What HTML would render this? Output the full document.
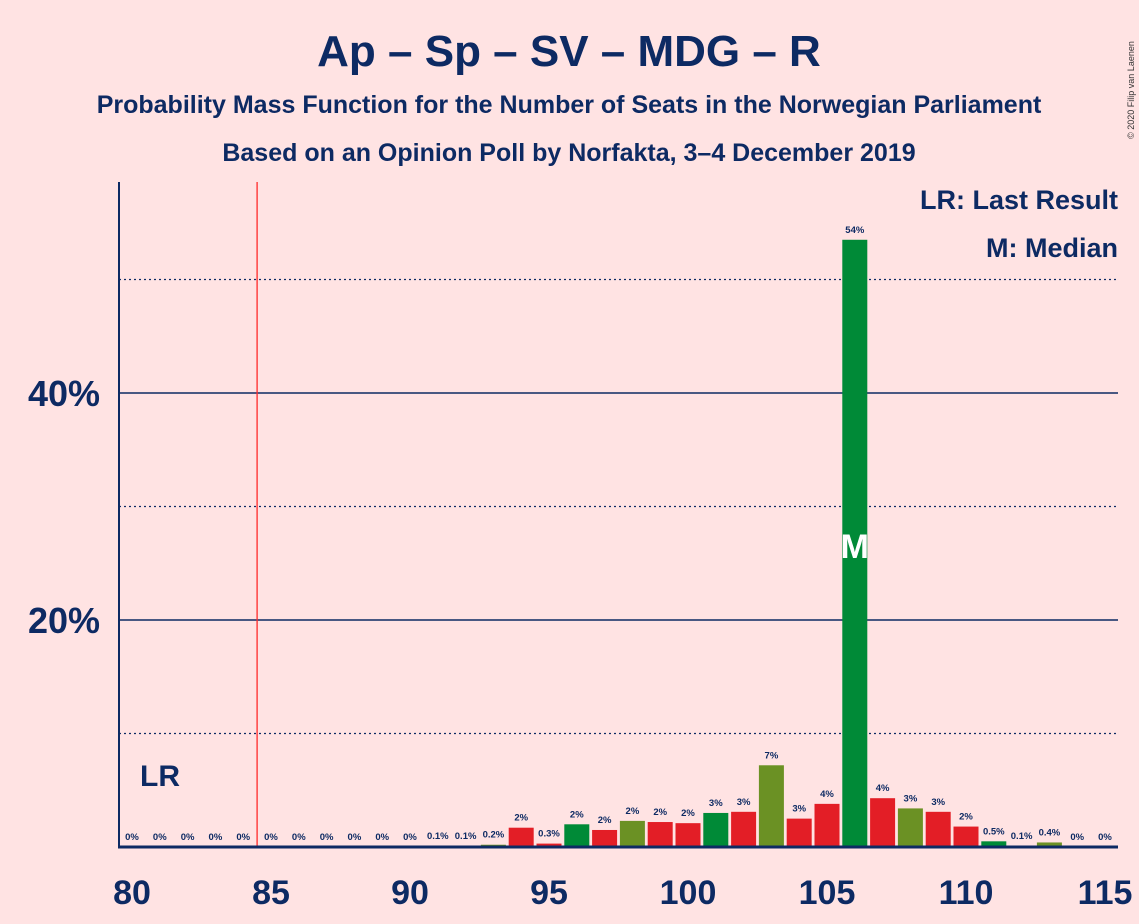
<!DOCTYPE html>
<html><head><meta charset="utf-8"><style>
body{margin:0;background:#ffe3e3;font-family:"Liberation Sans",sans-serif;}
svg{display:block}
</style></head><body>
<svg width="1139" height="924">
<rect width="1139" height="924" fill="#ffe3e3"/>
<text x="569" y="66" text-anchor="middle" font-size="44" font-weight="bold" fill="#0d2a63">Ap – Sp – SV – MDG – R</text>
<text x="569" y="113" text-anchor="middle" font-size="25" font-weight="bold" fill="#0d2a63">Probability Mass Function for the Number of Seats in the Norwegian Parliament</text>
<text x="569" y="161" text-anchor="middle" font-size="25" font-weight="bold" fill="#0d2a63">Based on an Opinion Poll by Norfakta, 3–4 December 2019</text>
<text x="1134" y="90" font-size="9" fill="#333" transform="rotate(-90 1134 90)" text-anchor="middle">© 2020 Filip van Laenen</text>
<text x="1118" y="209" text-anchor="end" font-size="27" font-weight="bold" fill="#0d2a63">LR: Last Result</text>
<text x="1118" y="257" text-anchor="end" font-size="27" font-weight="bold" fill="#0d2a63">M: Median</text>
<g id="grid"></g>
<g id="bars"></g>
<g id="axes"></g>
</svg>
<script>
const seats=[80,81,82,83,84,85,86,87,88,89,90,91,92,93,94,95,96,97,98,99,100,101,102,103,104,105,106,107,108,109,110,111,112,113,114,115];
const probs=[0,0,0,0,0,0,0,0,0,0,0,0.1,0.1,0.2,1.7,0.3,2.0,1.5,2.3,2.2,2.1,3.0,3.1,7.2,2.5,3.8,53.5,4.3,3.4,3.1,1.8,0.5,0.1,0.4,0,0];
const labels=["0%","0%","0%","0%","0%","0%","0%","0%","0%","0%","0%","0.1%","0.1%","0.2%","2%","0.3%","2%","2%","2%","2%","2%","3%","3%","7%","3%","4%","54%","4%","3%","3%","2%","0.5%","0.1%","0.4%","0%","0%"];
const xTicks=[80,85,90,95,100,105,110,115];
const yTicks=[20,40];
const yDotted=[10,30,50];
const lastResult=84.5, median=106;
const NS="http://www.w3.org/2000/svg";
const X=s=>132+27.8*(s-80), Y=p=>847-11.35*p;
function mk(t,a,parent){const e=document.createElementNS(NS,t);for(const k in a)e.setAttribute(k,a[k]);document.getElementById(parent).appendChild(e);return e;}
const cols=["#e31e26","#e31e26","#008a37","#e31e26","#6b9124"];
yDotted.forEach(v=>{const l=mk('line',{x1:119,x2:1118,y1:Y(v),y2:Y(v),stroke:'#0d2a63','stroke-width':1.3,'stroke-dasharray':'2,3'},'grid');

});
yTicks.forEach(v=>{const l=mk('line',{x1:119,x2:1118,y1:Y(v),y2:Y(v),stroke:'#0d2a63','stroke-width':1.6},'grid');


const t=mk('text',{x:100,y:Y(v)+13,'text-anchor':'end','font-size':36,'font-weight':'bold',fill:'#0d2a63'},'axes');t.textContent=v+'%';

});
seats.forEach((s,i)=>{const p=probs[i];
if(p>0){const r=mk('rect',{x:X(s)-12.5,y:Y(p),width:25,height:847-Y(p),fill:cols[(s-94+100)%5]},'bars');

}
const t=mk('text',{x:X(s),y:Y(p)-7,'text-anchor':'middle','font-size':9.5,'font-weight':'bold',fill:'#0d2a63'},'bars');t.textContent=labels[i];

});
const m=mk('text',{x:X(median),y:Y(26.5)+12,'text-anchor':'middle','font-size':34,'font-weight':'bold',fill:'#ffffff'},'bars');m.textContent='M';


const lr=mk('line',{x1:X(lastResult),x2:X(lastResult),y1:182,y2:847,stroke:'#ff2a2a','stroke-width':1.3},'axes');


const lt=mk('text',{x:160,y:786,'text-anchor':'middle','font-size':30,'font-weight':'bold',fill:'#0d2a63'},'axes');lt.textContent='LR';


const ya=mk('line',{x1:119,x2:119,y1:182,y2:848,stroke:'#0d2a63','stroke-width':2},'axes');


const xa=mk('line',{x1:118,x2:1118,y1:847,y2:847,stroke:'#0d2a63','stroke-width':3},'axes');


xTicks.forEach(s=>{const t=mk('text',{x:X(s),y:904,'text-anchor':'middle','font-size':34,'font-weight':'bold',fill:'#0d2a63'},'axes');t.textContent=s;

});
</script>
</body></html>
